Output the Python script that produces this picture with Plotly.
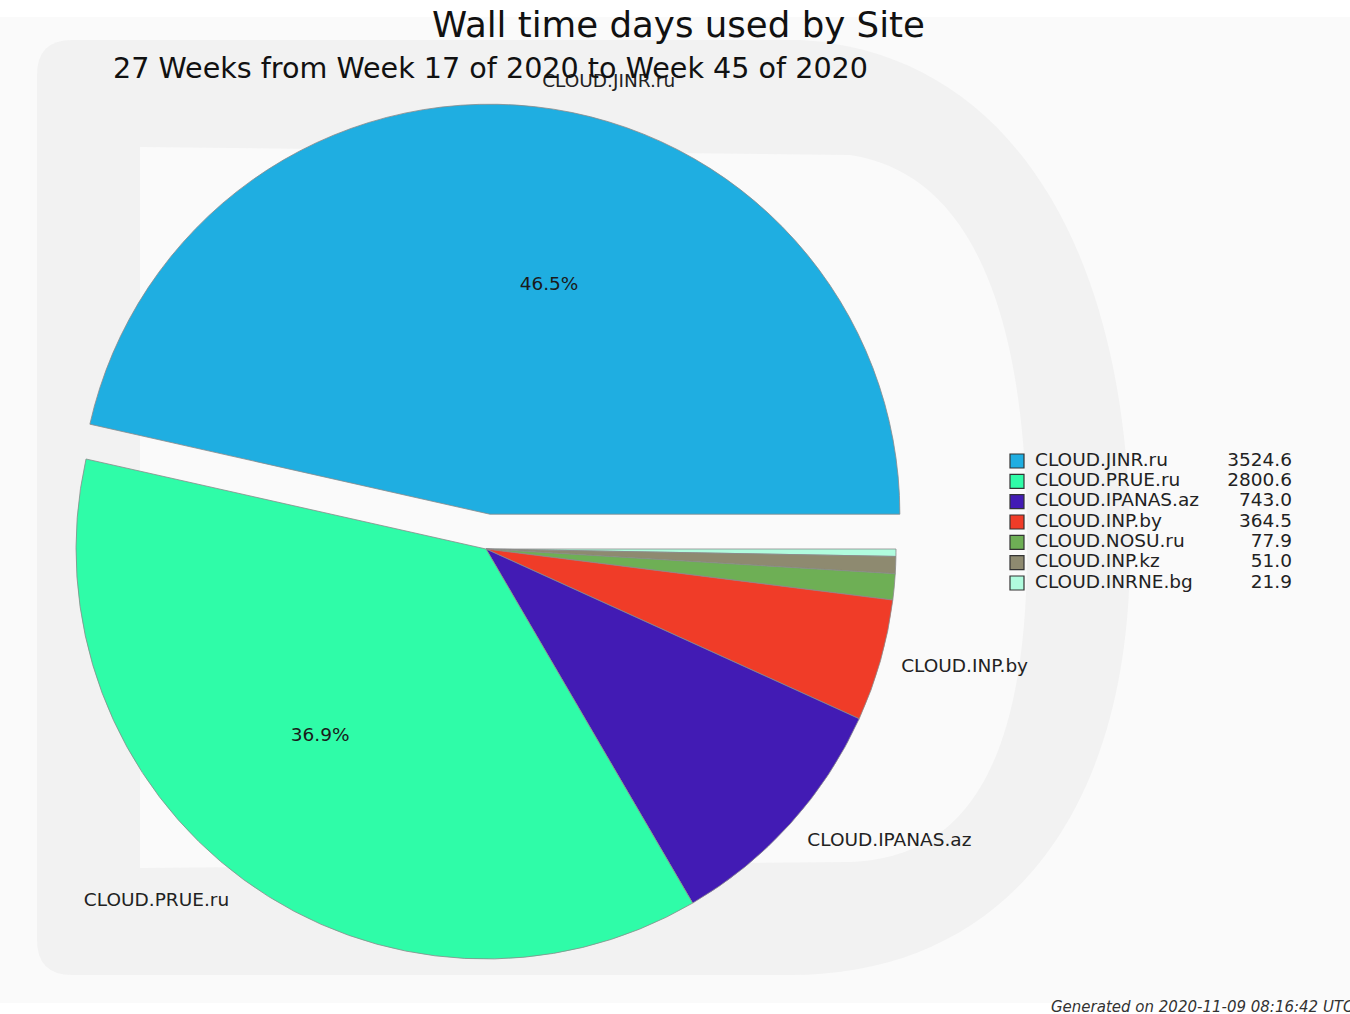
import plotly.graph_objects as go

# ---- data ----
sites = ["CLOUD.JINR.ru", "CLOUD.PRUE.ru", "CLOUD.IPANAS.az", "CLOUD.INP.by",
         "CLOUD.NOSU.ru", "CLOUD.INP.kz", "CLOUD.INRNE.bg"]
wall_days = [3524.6, 2800.6, 743.0, 364.5, 77.9, 51.0, 21.9]
colors = ["#1FAEE1", "#2FFCA8", "#421BB4", "#F03C28", "#6EAF55", "#8E8A70", "#B0FCDE"]
show_label = [True, True, True, True, False, False, False]
show_pct = [True, True, False, False, False, False, False]
explode_px = [35, 0, 0, 0, 0, 0, 0]   # offset of the exploded wedge, in pixels

title = "Wall time days used by Site"
subtitle = "27 Weeks from Week 17 of 2020 to Week 45 of 2020"
footer = "Generated on 2020-11-09 08:16:42 UTC"

W, H = 1350, 1014
FONT = "DejaVu Sans"
TXT = 18.5

cx, cy = 486, 549          # pie centre in pixels
R_PIE = 410                # wedge radius
R_LABEL = 426              # radius of invisible ring carrying the site labels
R_PCT = 222                # radius of invisible ring carrying the percentages


def pie_geom(r):
    pulls = [e / r for e in explode_px]
    box = 2 * r * (1 + max(pulls))
    dom = dict(x=[(cx - box / 2) / W, (cx + box / 2) / W],
               y=[1 - (cy + box / 2) / H, 1 - (cy - box / 2) / H])
    return pulls, dom


# matplotlib draws counter-clockwise from 3 o'clock; equivalent in plotly:
# reversed order, clockwise from 3 o'clock
rev = lambda a: list(a)[::-1]

fig = go.Figure()

pulls, dom = pie_geom(R_PIE)
fig.add_trace(go.Pie(
    labels=rev(sites), values=rev(wall_days), sort=False, direction="clockwise",
    rotation=90, pull=rev(pulls), domain=dom,
    marker=dict(colors=rev(colors), line=dict(color="#8a8a8a", width=0.8)),
    textinfo="none", showlegend=False, hoverinfo="label+value+percent",
))

pulls, dom = pie_geom(R_LABEL)
fig.add_trace(go.Pie(
    labels=rev(sites), values=rev(wall_days), sort=False, direction="clockwise",
    rotation=90, pull=rev(pulls), domain=dom,
    marker=dict(colors=["rgba(0,0,0,0)"] * len(sites), line=dict(width=0)),
    texttemplate=rev(["%{label}" if s else "" for s in show_label]),
    textposition="outside",
    outsidetextfont=dict(family=FONT, size=TXT, color="#222222"),
    showlegend=False, hoverinfo="skip",
))

pulls, dom = pie_geom(R_PCT)
fig.add_trace(go.Pie(
    labels=rev(sites), values=rev(wall_days), sort=False, direction="clockwise",
    rotation=90, pull=rev(pulls), domain=dom,
    marker=dict(colors=["rgba(0,0,0,0)"] * len(sites), line=dict(width=0)),
    texttemplate=rev(["%{percent:.1%}" if s else "" for s in show_pct]),
    textposition="outside",
    outsidetextfont=dict(family=FONT, size=TXT, color="#1a1a1a"),
    showlegend=False, hoverinfo="skip",
))

# custom legend (names + right-aligned values)
rows = list(range(len(sites)))
fig.add_trace(go.Scatter(
    x=[1017] * len(sites), y=rows, mode="markers",
    marker=dict(symbol="square", size=14, color=colors, line=dict(color="#333333", width=1.2)),
    showlegend=False, hoverinfo="skip",
))
fig.add_trace(go.Scatter(
    x=[1035] * len(sites), y=rows, mode="text", text=sites,
    textposition="middle right", textfont=dict(family=FONT, size=TXT, color="#222222"),
    showlegend=False, hoverinfo="skip",
))
fig.add_trace(go.Scatter(
    x=[1292] * len(sites), y=rows, mode="text", text=[f"{v:.1f}" for v in wall_days],
    textposition="middle left", textfont=dict(family=FONT, size=TXT, color="#222222"),
    showlegend=False, hoverinfo="skip",
))

row_h = 20.33
top_px = 461


def p(x, y):
    return f"{x / W:.5f},{1 - y / H:.5f}"


outer = (f"M {p(72,40)} L {p(800,40)} C {p(1010,52)} {p(1133,250)} {p(1130,560)} "
         f"C {p(1127,820)} {p(1000,975)} {p(790,975)} L {p(72,975)} Q {p(37,975)} {p(37,940)} "
         f"L {p(37,75)} Q {p(37,40)} {p(72,40)} Z")
inner = (f"M {p(140,147)} L {p(850,155)} C {p(965,172)} {p(1030,300)} {p(1027,560)} "
         f"C {p(1024,790)} {p(950,858)} {p(850,862)} L {p(140,868)} Z")

fig.update_layout(
    width=W, height=H, margin=dict(l=0, r=0, t=0, b=0, autoexpand=False),
    paper_bgcolor="white", plot_bgcolor="rgba(0,0,0,0)", showlegend=False,
    xaxis=dict(range=[0, W], visible=False, fixedrange=True),
    yaxis=dict(range=[(H - top_px) / row_h, -top_px / row_h], visible=False, fixedrange=True),
    font=dict(family=FONT, color="#222222"),
    shapes=[
        dict(type="rect", xref="paper", yref="paper", x0=0, x1=1, y0=1 - 1003 / H, y1=1 - 17 / H,
             fillcolor="#fafafa", line=dict(width=0), layer="below"),
        dict(type="path", xref="paper", yref="paper", layer="below", fillcolor="#f2f2f2",
             line=dict(width=0), path=outer),
        dict(type="path", xref="paper", yref="paper", layer="below", fillcolor="#fafafa",
             line=dict(width=0), path=inner),
    ],
    annotations=[
        dict(text=title, x=678 / W, y=1 - 24 / H, xref="paper", yref="paper", showarrow=False,
             xanchor="center", yanchor="middle", font=dict(family=FONT, size=35.6, color="#111111")),
        dict(text=subtitle, x=490 / W, y=1 - 68 / H, xref="paper", yref="paper", showarrow=False,
             xanchor="center", yanchor="middle", font=dict(family=FONT, size=28.6, color="#111111")),
        dict(text=footer, x=1049 / W, y=1 - 1007 / H, xref="paper", yref="paper", showarrow=False,
             xanchor="left", yanchor="middle",
             font=dict(family=FONT, size=15, color="#333333", style="italic")),
    ],
)

fig.write_html("out.html", config={"displayModeBar": False},
               post_script="document.body.style.margin='0px';")
